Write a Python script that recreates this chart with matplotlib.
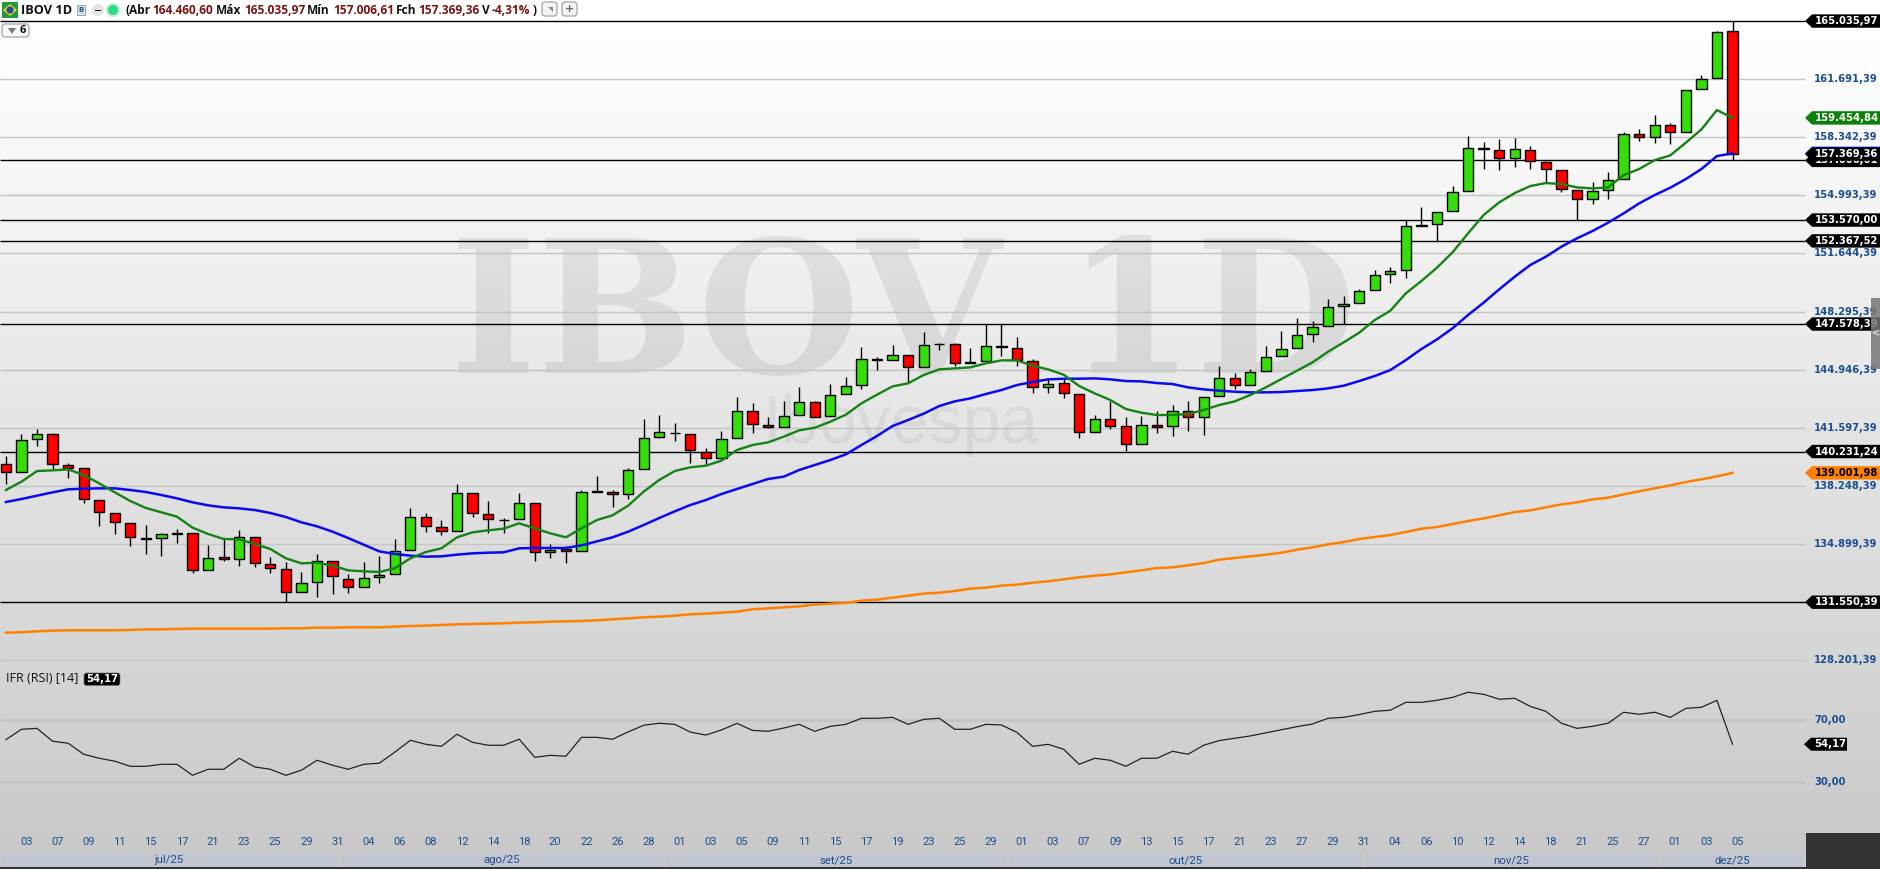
import matplotlib
matplotlib.use('Agg')
import matplotlib.pyplot as plt
import numpy as np
from matplotlib.patches import Polygon, Rectangle, Circle, FancyBboxPatch
from matplotlib.transforms import blended_transform_factory

# values, one entry per session
open_prices = [139492, 139032, 140932, 141220, 139435, 139262, 137419, 136670, 136094, 135230,
               135230, 135518, 135518, 133387, 134136, 134020, 135288, 133732, 133444, 132120,
               132696, 133905, 132868, 132408, 132984, 133156, 134539, 136440, 135864, 135633,
               137822, 136612, 136305, 136324, 137246, 134424, 134596, 134481, 137956, 137918,
               137765, 139205, 141049, 141317, 141221, 140223, 139839, 140991, 142546, 141740,
               141625, 142316, 143065, 142258, 143525, 144044, 145541, 145484, 145772, 145081,
               146425, 146405, 145369, 145426, 146290, 146175, 145426, 143929, 144159, 143525,
               141337, 142085, 141682, 140645, 141740, 141682, 142546, 142201, 143410, 144447,
               144082, 144850, 145714, 146175, 146981, 147446, 148598, 148771, 149519, 150441,
               150671, 153263, 153321, 154070, 155222, 157699, 157583, 157123, 157622, 156892,
               156431, 155279, 154761, 155279, 155913, 158505, 158332, 159023, 158620, 161097,
               161731, 164460.60]
high_prices = [139972, 141240, 141528, 141278, 139588, 139262, 137419, 136670, 136094, 135998,
               135556, 135768, 135518, 134846, 135192, 135710, 135288, 134155, 133848, 133291,
               134308, 133905, 133176, 133867, 134212, 135192, 136977, 136670, 136286, 138360,
               137822, 137380, 136420, 137841, 137246, 134884, 134769, 137995, 138820, 137995,
               139263, 142105, 142335, 141874, 141221, 140415, 141413, 143372, 143045, 142220,
               143141, 143929, 143141, 144121, 144524, 146252, 145695, 146367, 145772, 147097,
               146463, 146463, 146194, 147557, 147557, 146828, 145541, 144447, 144389, 143525,
               142316, 143141, 142220, 142277, 142546, 142911, 143141, 143353, 145157, 144735,
               144965, 146309, 147154, 147922, 147730, 149020, 149193, 149596, 150691, 150863,
               153551, 154319, 154012, 155510, 158409, 158044, 158217, 158294, 157814, 156950,
               156431, 155279, 155740, 156316, 158639, 158812, 159619, 159139, 161039, 161923,
               164476, 165035.97]
low_prices = [138360, 139032, 140548, 139224, 138705, 137284, 135960, 135480, 134788, 134328,
              134212, 134961, 133252, 133387, 133924, 133636, 133579, 133233, 131550, 132120,
              131870, 132024, 132081, 132408, 132657, 133156, 134539, 135595, 135422, 135633,
              136459, 135537, 135537, 136324, 133944, 134097, 133809, 134481, 137918, 137035,
              137477, 139205, 140991, 140837, 139589, 139513, 139839, 140991, 141317, 141567,
              141625, 142316, 142201, 142258, 143525, 143852, 144946, 145484, 144159, 145081,
              146079, 145177, 145311, 145426, 145753, 145177, 143621, 143621, 143333, 141029,
              141337, 141548, 140242, 140645, 141317, 141145, 141433, 141202, 143410, 143813,
              144044, 144850, 145714, 146175, 146559, 147446, 147561, 148771, 149519, 149942,
              150249, 153225, 152342, 154070, 155222, 156527, 156451, 156643, 156527, 155759,
              155203, 153551, 154511, 154799, 155913, 158140, 158025, 157967, 158620, 161097,
              161731, 157006.61]
close_prices = [139032, 140875, 141220, 139492, 139300, 137476, 136728, 136152, 135288, 135211,
                135460, 135499, 133387, 134078, 134020, 135288, 133790, 133502, 132120, 132638,
                133905, 133041, 132408, 132926, 133099, 134481, 136440, 135921, 135633, 137822,
                136670, 136324, 136286, 137246, 134424, 134577, 134481, 137880, 137918, 137764,
                139148, 140991, 141337, 141279, 140300, 139839, 140933, 142546, 141798, 141625,
                142258, 143065, 142239, 143468, 143986, 145541, 145484, 145772, 145081, 146348,
                146405, 145311, 145311, 146290, 146233, 145503, 143929, 144101, 143583, 141337,
                142085, 141682, 140645, 141740, 141663, 142546, 142201, 143353, 144447, 144044,
                144793, 145657, 146117, 146924, 147385, 148540, 148713, 149462, 150383, 150614,
                153206, 153225, 154012, 155164, 157699, 157641, 157123, 157641, 156950, 156489,
                155337, 154761, 155222, 155855, 158505, 158332, 159023, 158620, 161039, 161673,
                164380, 157369.36]

ma_fast = [138014, 138494, 139108, 139147, 139204, 138878, 138398, 137880, 137380, 136977,
           136728, 136478, 135844, 135480, 135192, 135172, 134904, 134616, 134078, 133790,
           133828, 133656, 133387, 133329, 133291, 133502, 134078, 134443, 134654, 135288,
           135576, 135691, 135787, 136094, 135806, 135518, 135288, 135806, 136286, 136555,
           137111, 137919, 138591, 139109, 139321, 139417, 139705, 140319, 140607, 140761,
           141087, 141452, 141605, 141951, 142354, 143007, 143506, 143986, 144159, 144639,
           144965, 145023, 145081, 145311, 145484, 145484, 145177, 144965, 144658, 144005,
           143583, 143199, 142681, 142469, 142335, 142335, 142393, 142623, 142911, 143122,
           143487, 143929, 144409, 144889, 145369, 145983, 146521, 147077, 147807, 148345,
           149347, 150057, 150825, 151708, 152803, 153859, 154588, 155126, 155529, 155702,
           155644, 155452, 155394, 155452, 156163, 156508, 157024, 157296, 158025, 158793,
           159907, 159454.84]
ma_mid = [137323, 137496, 137688, 137880, 138052, 138091, 138110, 138110, 138014, 137899,
          137726, 137534, 137304, 137131, 137016, 136958, 136862, 136689, 136459, 136152,
          135921, 135614, 135249, 134865, 134481, 134328, 134232, 134174, 134193, 134289,
          134366, 134404, 134424, 134654, 134673, 134673, 134673, 134827, 135057, 135288,
          135613, 135997, 136400, 136784, 137149, 137437, 137783, 138073, 138361, 138649,
          138783, 139167, 139455, 139743, 140069, 140607, 141125, 141701, 142047, 142412,
          142853, 143122, 143295, 143545, 143775, 144063, 144236, 144389, 144428, 144428,
          144447, 144389, 144293, 144274, 144178, 144121, 143929, 143813, 143737, 143679,
          143641, 143641, 143660, 143717, 143775, 143871, 144025, 144293, 144581, 144927,
          145503, 146137, 146693, 147330, 148099, 148809, 149574, 150307, 150979, 151459,
          152035, 152515, 152937, 153417, 153955, 154531, 155011, 155433, 155933, 156509,
          157257, 157411]
ma_slow = [129796, 129816, 129873, 129912, 129931, 129931, 129931, 129931, 129950, 129988,
           129988, 130008, 130027, 130027, 130027, 130027, 130027, 130027, 130046, 130046,
           130084, 130084, 130104, 130104, 130104, 130142, 130180, 130200, 130238, 130276,
           130296, 130315, 130334, 130372, 130392, 130430, 130449, 130468, 130507, 130564,
           130621, 130679, 130717, 130775, 130851, 130890, 130947, 131005, 131139, 131197,
           131255, 131312, 131408, 131466, 131504, 131639, 131696, 131811, 131927, 132042,
           132099, 132195, 132330, 132387, 132503, 132560, 132675, 132752, 132867, 132983,
           133079, 133155, 133271, 133386, 133520, 133559, 133674, 133808, 134000, 134096,
           134192, 134288, 134403, 134576, 134711, 134883, 135018, 135191, 135306, 135421,
           135594, 135786, 135882, 136055, 136228, 136381, 136554, 136746, 136842, 137015,
           137187, 137303, 137475, 137571, 137763, 137938, 138111, 138284, 138476, 138630,
           138803, 139001.98]
rsi = [57.1, 63.8, 64.4, 56.1, 54.8, 47.7, 45.1, 43.2, 39.9, 39.9,
       41.2, 41.2, 34.1, 38.0, 38.0, 45.1, 39.5, 38.0, 34.1, 37.4,
       43.8, 40.6, 38.0, 41.2, 41.9, 49.0, 56.7, 54.1, 52.8, 60.6,
       55.4, 53.5, 53.5, 57.4, 45.7, 47.0, 46.4, 58.6, 58.6, 57.4,
       62.1, 66.4, 67.7, 67.0, 62.0, 60.1, 63.35, 67.65, 63.1, 62.5,
       64.6, 67.0, 62.5, 65.7, 67.0, 70.9, 70.9, 71.5, 67.0, 70.2,
       70.9, 63.8, 63.8, 67.0, 66.6, 61.8, 52.8, 54.1, 50.9, 41.2,
       45.1, 43.8, 39.9, 45.1, 45.1, 49.6, 47.7, 53.5, 56.5, 58.0,
       59.5, 61.5, 63.5, 65.5, 67.2, 70.9, 71.5, 73.3, 75.4, 76.1,
       81.2, 81.2, 82.5, 84.4, 87.7, 86.4, 83.2, 83.8, 78.6, 75.4,
       67.7, 64.4, 65.7, 67.7, 74.8, 73.5, 74.8, 71.5, 77.3, 78.0,
       82.5, 54.17]

grid_prices = [161691.39, 158342.39, 154993.39, 151644.39, 148295.39, 144946.39,
               141597.39, 138248.39, 134899.39, 128201.39]
grid_labels = ['161.691,39', '158.342,39', '154.993,39', '151.644,39', '148.295,39', '144.946,39',
               '141.597,39', '138.248,39', '134.899,39', '128.201,39']
level_prices = [165035.97, 153570.00, 152367.52, 147578.39, 140231.24, 131550.39, 157006.61]
level_labels = ['165.035,97', '153.570,00', '152.367,52', '147.578,39', '140.231,24', '131.550,39', '157.006,61']
day_labels = ['03', '07', '09', '11', '15', '17', '21', '23', '25', '29', '31',
              '04', '06', '08', '12', '14', '18', '20', '22', '26', '28',
              '01', '03', '05', '09', '11', '15', '17', '19', '23', '25', '29',
              '01', '03', '07', '09', '13', '15', '17', '21', '23', '27', '29', '31',
              '04', '06', '10', '12', '14', '18', '21', '25', '27',
              '01', '03', '05']
day_positions = list(range(1, 112, 2))
months = ['jul/25', 'ago/25', 'set/25', 'out/25', 'nov/25', 'dez/25']
month_edges = [-0.38, 21.4, 42.4, 64.4, 87.3, 106.3, 115.67]
rsi_levels = [70, 30]
rsi_labels = ['70,00', '30,00']

W, H = 1881, 869
BLUE_TXT = '#1c4f8f'
MONO = 'DejaVu Sans'
NARROW = 'Roboto'

fig = plt.figure(figsize=(W / 100, H / 100), dpi=100)

def px_axes(x0, y0, x1, y1, z):
    a = fig.add_axes([x0 / W, 1 - y1 / H, (x1 - x0) / W, (y1 - y0) / H], zorder=z)
    a.patch.set_visible(False)
    return a

# background and watermarks, in pixels
bg = px_axes(0, 0, W, H, 0)
bg.set_xlim(0, W)
bg.set_ylim(H, 0)
bg.axis('off')
shade = np.clip(255 - 55 * (np.arange(H) - 25) / 825, 200, 255) / 255
bg.imshow(shade[:, None], extent=(0, W, H, 0), cmap='gray', vmin=0, vmax=1, aspect='auto')
bg.text(903, 373, 'IBOV 1D', family='DejaVu Serif', weight='bold', fontsize=134,
        color='black', alpha=0.075, ha='center', va='baseline')
bg.text(901, 443, 'Ibovespa', family='Liberation Sans', fontsize=49,
        color='black', alpha=0.05, ha='center', va='baseline')

# price panel
step = 15.555
x_first = 5.9
xlim = (-x_first / step, (W - x_first) / step)
grid_right = (1805 - x_first) / step
idx = np.arange(len(close_prices))

ax = px_axes(0, 0, W, 690, 2)
ax.set_xlim(*xlim)
ax.set_ylim(126491, 166249)
ax.axis('off')

ax.hlines(grid_prices, xlim[0], grid_right, color='#c4c4c4', lw=1.0, zorder=1)
ax.hlines(level_prices, xlim[0], grid_right, color='black', lw=1.0, zorder=2)

opens = np.array(open_prices)
closes = np.array(close_prices)
body_colors = ['#35dd0a' if c >= o else '#ff0000' for o, c in zip(opens, closes)]
ax.vlines(idx, low_prices, high_prices, color='black', lw=1.0, zorder=3)
ax.bar(idx, np.abs(closes - opens), bottom=np.minimum(opens, closes), width=0.66,
       color=body_colors, edgecolor='black', linewidth=1.0, zorder=4)
ax.plot(idx, ma_slow, color='#ff8000', lw=1.8, zorder=5)
ax.plot(idx, ma_mid, color='#0a0af0', lw=1.8, zorder=5)
ax.plot(idx, ma_fast, color='#148214', lw=1.7, zorder=5)

# overlay in pixels for tags and header
ov = px_axes(0, 0, W, H, 5)
ov.set_xlim(0, W)
ov.set_ylim(H, 0)
ov.axis('off')

tag_tr = blended_transform_factory(ov.transData, ax.transData)
unit = 57.62

def price_tag(price, label, face, text_color, z=6):
    half = 6.7 * unit
    pts = [(1805, price), (1812, price + half), (1880, price + half),
           (1880, price - half), (1812, price - half)]
    ax.add_patch(Polygon(pts, closed=True, facecolor=face, edgecolor='none', transform=tag_tr, zorder=z))
    ax.text(1815, price, label, transform=tag_tr, color=text_color, family=MONO, weight='bold',
            fontsize=7.2, va='center', ha='left', zorder=z + 0.1)

for p, t in zip(grid_prices, grid_labels):
    ax.text(1814, p, t, transform=tag_tr, color=BLUE_TXT, family=MONO, weight='bold',
            fontsize=7.2, va='center', ha='left', zorder=5)
price_tag(ma_mid[-1], '157.411,20', '#0a0af0', 'white', z=6)
for p, t in zip(level_prices, level_labels):
    price_tag(p, t, 'black', 'white', z=7)
price_tag(ma_fast[-1], '159.454,84', '#0b800b', 'white', z=8)
price_tag(ma_slow[-1], '139.001,98', '#ff8000', 'black', z=8)
price_tag(close_prices[-1], '157.369,36', 'black', 'white', z=9)

# RSI panel
ax2 = px_axes(0, 690, W, 833, 3)
ax2.set_xlim(*xlim)
ax2.set_ylim(-3.14, 89.16)
for s in ax2.spines.values():
    s.set_visible(False)
ax2.hlines(rsi_levels, xlim[0], grid_right, color='#c4c4c4', lw=2.0, zorder=1)
ax2.plot(idx, rsi, color='#222222', lw=0.9, zorder=3)
ax2.set_yticks([])
ax2.set_xticks(np.array(day_positions) + 0.31)
ax2.set_xticklabels(day_labels, family=NARROW, fontsize=8, color=BLUE_TXT)
ax2.tick_params(axis='x', length=0, pad=3)

rsi_tr = blended_transform_factory(ov.transData, ax2.transData)
for v, t in zip(rsi_levels, rsi_labels):
    ax2.text(1814, v, t, transform=rsi_tr, color=BLUE_TXT, family=MONO, weight='bold',
             fontsize=7.2, va='center', ha='left')
half = 6.5 / 1.55
ax2.add_patch(Polygon([(1804, rsi[-1]), (1811, rsi[-1] + half), (1847, rsi[-1] + half),
                       (1847, rsi[-1] - half), (1811, rsi[-1] - half)],
                      closed=True, facecolor='black', edgecolor='none', transform=rsi_tr, zorder=6))
ax2.text(1814, rsi[-1], '54,17', transform=rsi_tr, color='white', family=MONO, weight='bold',
         fontsize=7.2, va='center', ha='left', zorder=7)

# month strip
strip_tr = blended_transform_factory(ax2.transData, ov.transData)
for i, m in enumerate(months):
    left, right = month_edges[i], month_edges[i + 1]
    ov.add_patch(Rectangle((left + 0.12, 853), right - left - 0.24, 14, facecolor='#c0c5d0',
                           edgecolor='none', transform=strip_tr))
    ov.text((left + right) / 2, 860, m, transform=strip_tr, family=NARROW, fontsize=8.2,
            color=BLUE_TXT, ha='center', va='center')
ov.add_patch(Rectangle((0, 867), W, 2, facecolor='#333333', edgecolor='none'))
ov.add_patch(Rectangle((1806, 833), 75, 36, facecolor='#333333', edgecolor='none'))

# scroll handle on the right edge
ov.add_patch(Rectangle((1871, 298), 10, 71, facecolor='#777777', edgecolor='none', alpha=0.85, zorder=8))
ov.text(1876, 333, '<', color='#dddddd', fontsize=7, weight='bold', ha='center', va='center', zorder=9)

# header strip
HEAD = 'Open Sans'
ov.add_patch(Rectangle((2, 2), 16, 16, facecolor='#1f9a3c', edgecolor='none'))
ov.add_patch(Polygon([(3, 10), (10, 4), (17, 10), (10, 16)], closed=True, facecolor='#f2d21a', edgecolor='none'))
ov.add_patch(Circle((10, 10), 3.6, facecolor='#1f4fa0', edgecolor='none'))
ov.text(21, 10, 'IBOV 1D', family=HEAD, fontsize=9.2, weight='bold', color='#111111', va='center')
ov.add_patch(Rectangle((77, 5), 8, 10, facecolor='#d5dcea', edgecolor='#8a9ab5', lw=0.6))
ov.text(81, 10, 'B', fontsize=5, color='#35558c', ha='center', va='center', weight='bold')
ov.add_patch(Circle((98, 10), 6, facecolor='#e4e4e4', edgecolor='none'))
ov.add_patch(Rectangle((95, 9.5), 6, 1.6, facecolor='#111111', edgecolor='none'))
ov.add_patch(Circle((113, 10), 7, facecolor='#b8f0d4', edgecolor='none'))
ov.add_patch(Circle((113, 10), 5, facecolor='#2fdc85', edgecolor='none'))

header_bits = [(125, '(Abr', '#111111'), (152, '164.460,60', '#7a1212'), (216, 'Máx', '#111111'),
               (244, '165.035,97', '#7a1212'), (307, 'Mín', '#111111'), (333, '157.006,61', '#7a1212'),
               (396, 'Fch', '#111111'), (418, '157.369,36', '#7a1212'), (482, 'V', '#111111'),
               (492, '-4,31%', '#7a1212'), (533, ')', '#111111')]
for hx, txt, col in header_bits:
    ov.text(hx, 10, txt, family=HEAD, fontsize=8.6, weight='bold', color=col, va='center')

for bx, glyph in [(542, ''), (562, '+')]:
    ov.add_patch(FancyBboxPatch((bx, 2), 15, 14, boxstyle='round,pad=0,rounding_size=3',
                                facecolor='#f4f4f4', edgecolor='#9a9a9a', lw=0.8))
    if glyph:
        ov.text(bx + 7.5, 9, glyph, color='#666666', fontsize=8, weight='bold', ha='center', va='center')
ov.add_patch(Polygon([(548, 7), (553, 7), (553, 12)], closed=True, facecolor='#888888', edgecolor='none'))

ov.add_patch(FancyBboxPatch((2, 24), 27, 13, boxstyle='round,pad=0,rounding_size=3',
                            facecolor='#fafafa', edgecolor='#9a9a9a', lw=0.8))
ov.add_patch(Polygon([(8, 28), (16, 28), (12, 34)], closed=True, facecolor='#777777', edgecolor='none'))
ov.text(23, 30.5, '6', family=HEAD, fontsize=8, weight='bold', color='#111111', ha='center', va='center')

# RSI caption
ov.text(6, 679, 'IFR (RSI) [14]', family=HEAD, fontsize=9, color='#111111', va='center')
ov.add_patch(FancyBboxPatch((84, 673), 36, 12.5, boxstyle='round,pad=0,rounding_size=2.5',
                            facecolor='black', edgecolor='#777777', lw=0.5))
ov.text(102, 679, '54,17', family=MONO, fontsize=7.2, weight='bold', color='white', ha='center', va='center')

fig.savefig('out.png', dpi=100)
